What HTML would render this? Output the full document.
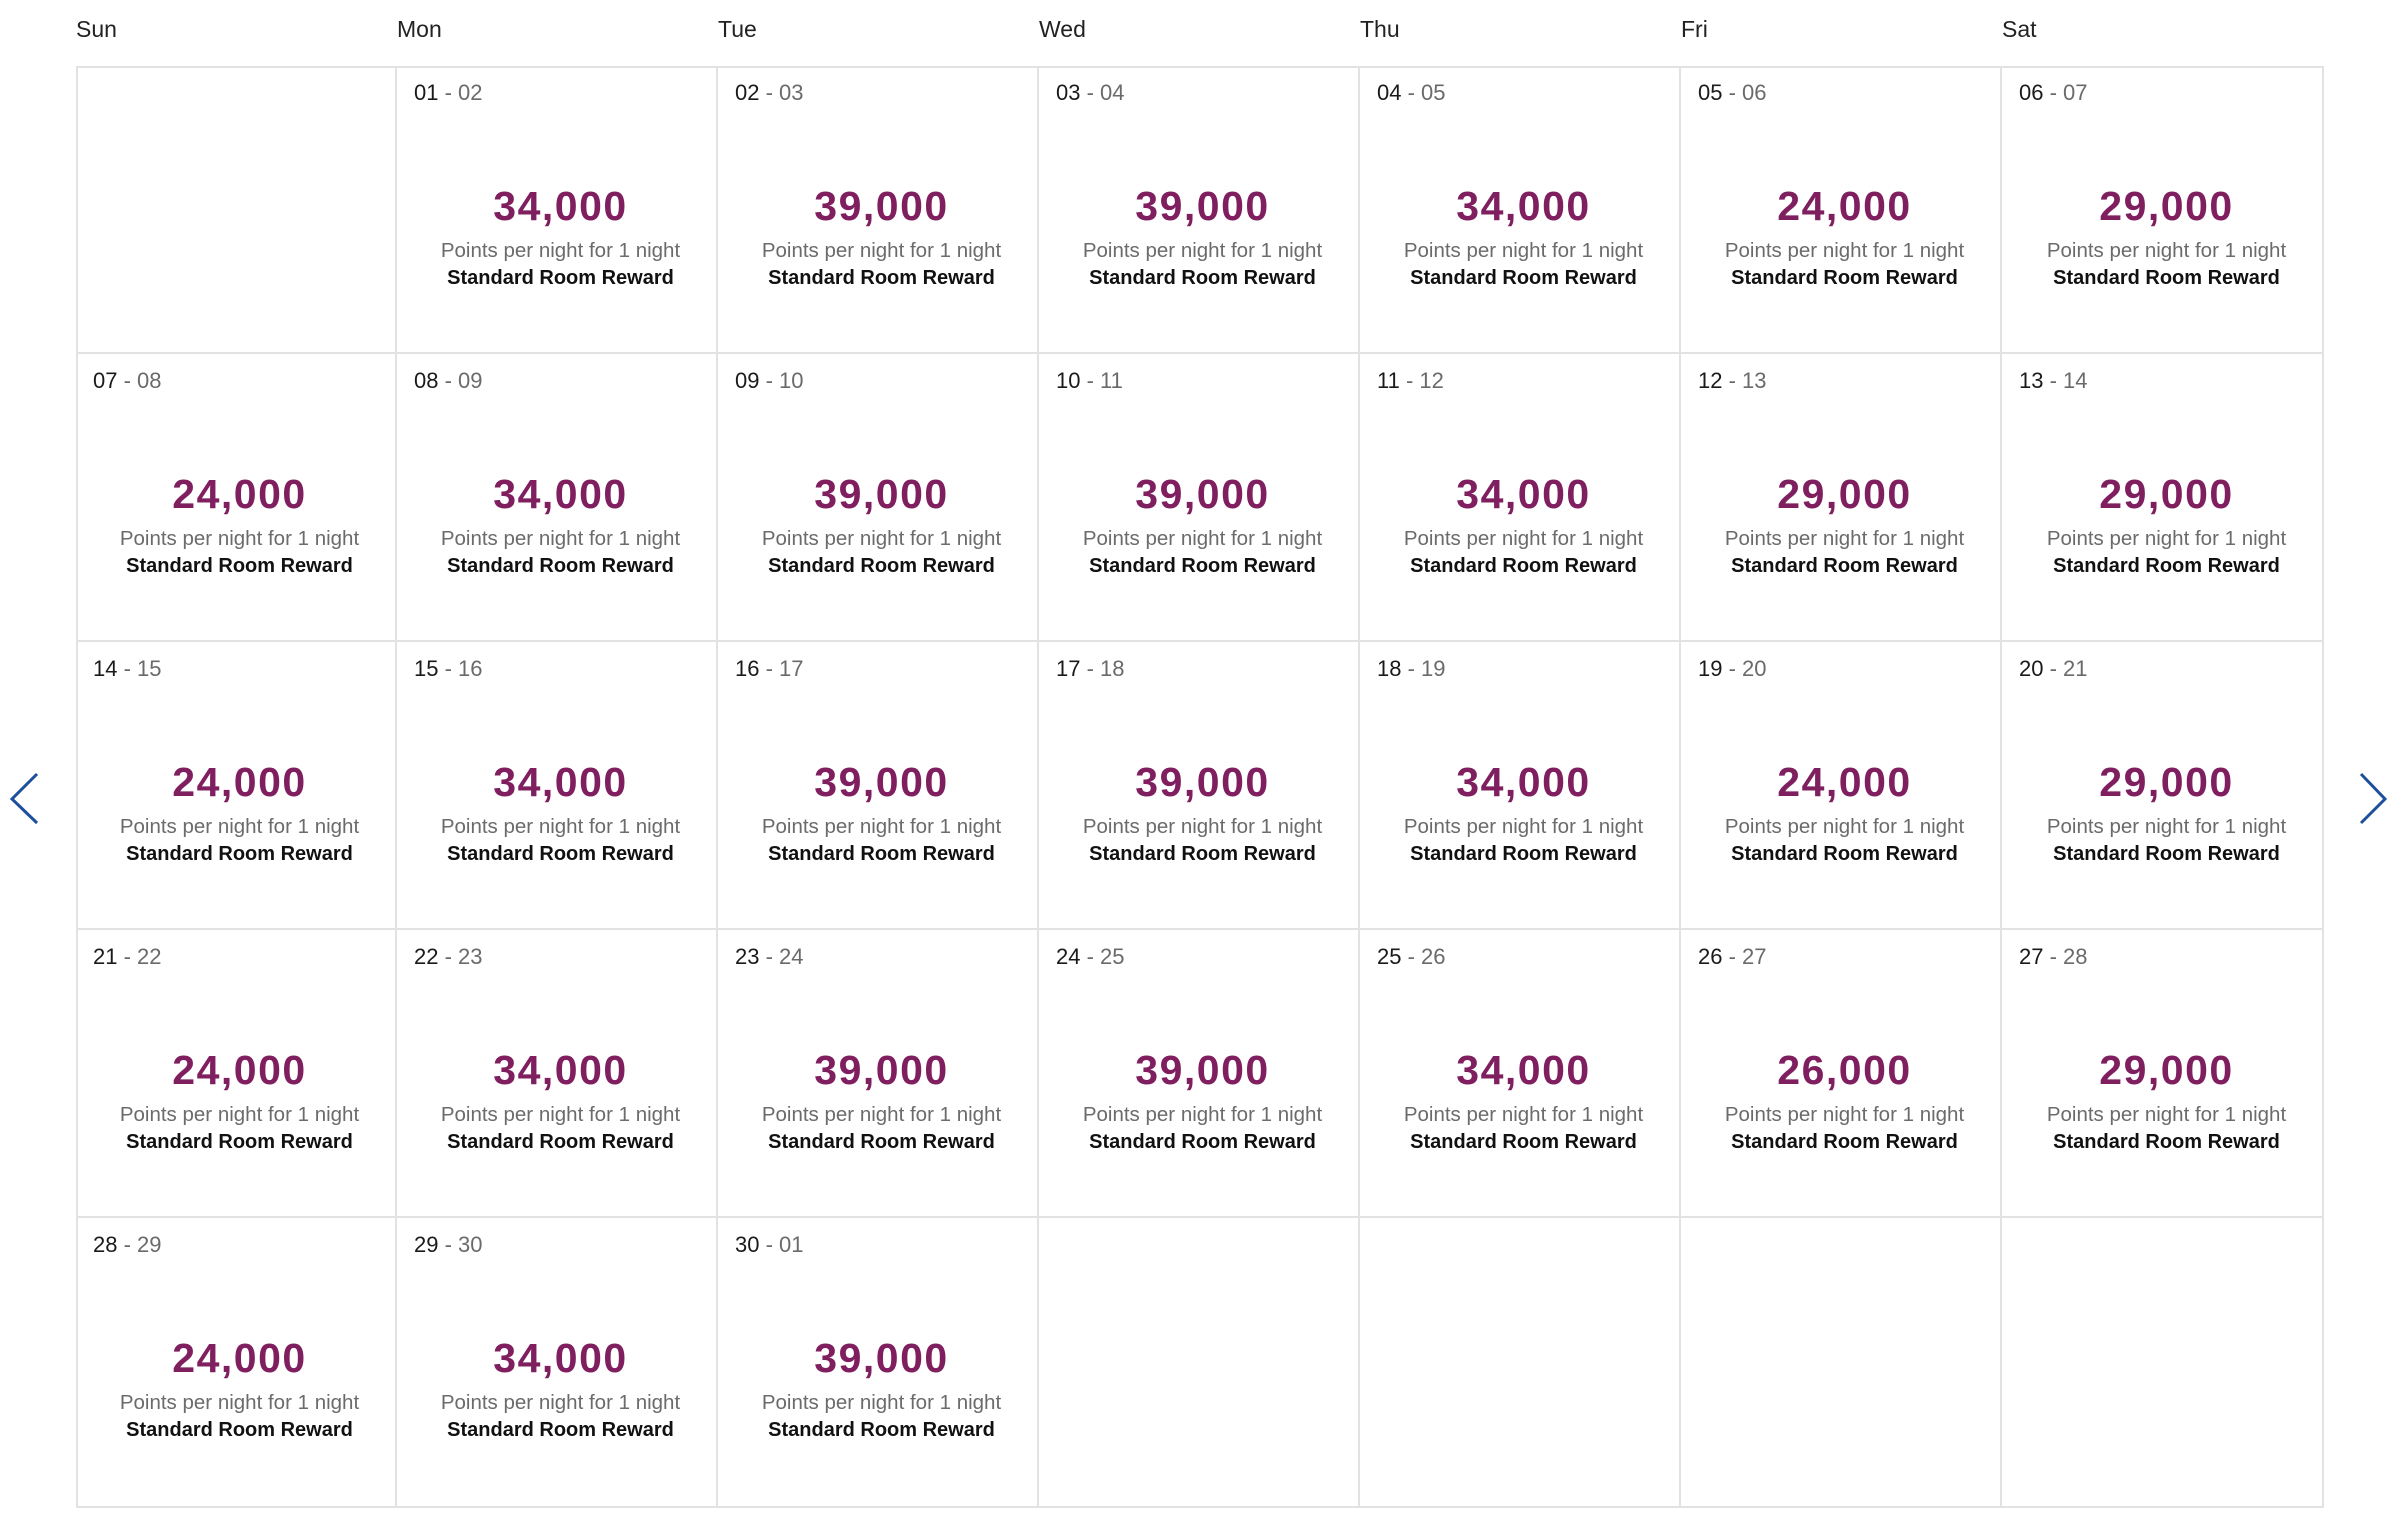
<!DOCTYPE html>
<html><head><meta charset="utf-8"><style>
*{margin:0;padding:0;box-sizing:border-box}
body{width:2392px;height:1530px;background:#fff;position:relative;overflow:hidden;font-family:"Liberation Sans",sans-serif}
.h{position:absolute;top:16px;font-size:23px;color:#222}
.grid{position:absolute;left:76px;top:66px;width:2248px;height:1442px;border:2px solid #e2e2e2}
.c{position:absolute;width:321px;height:288px;border-right:2px solid #e2e2e2;border-bottom:2px solid #e2e2e2}
.d{position:absolute;left:17px;top:14px;font-size:22px;color:#1a1a1a}
.d span{color:#6a6a6a}
.n{position:absolute;left:4px;right:-4px;top:117px;text-align:center;font-size:41px;font-weight:bold;color:#7f1f5f;letter-spacing:1.5px}
.p{position:absolute;left:4px;right:-4px;top:173px;text-align:center;font-size:20.5px;color:#6b6b6b}
.s{position:absolute;left:4px;right:-4px;top:201px;text-align:center;font-size:20px;font-weight:bold;color:#111}
</style></head><body>
<div class="h" style="left:76px">Sun</div>
<div class="h" style="left:397px">Mon</div>
<div class="h" style="left:718px">Tue</div>
<div class="h" style="left:1039px">Wed</div>
<div class="h" style="left:1360px">Thu</div>
<div class="h" style="left:1681px">Fri</div>
<div class="h" style="left:2002px">Sat</div>
<div class="grid" id="g"></div>
<svg style="position:absolute;left:0;top:0" width="2392" height="1530">
<polyline points="37,774 12,799 37,823" fill="none" stroke="#1c4f9c" stroke-width="3"/>
<polyline points="2361,774 2385,799 2361,823" fill="none" stroke="#1c4f9c" stroke-width="3"/>
</svg>
<script>
var vals=[null,34,39,39,34,24,29,24,34,39,39,34,29,29,24,34,39,39,34,24,29,24,34,39,39,34,26,29,24,34,39];
var g=document.getElementById('g'),h='';
function p(x){return (x<10?'0':'')+x}
for(var i=0;i<35;i++){
 var r=Math.floor(i/7),c=i%7,st='left:'+(c*321-2)+'px;top:'+(r*288-2)+'px;';
 if(c==6)st+='border-right:none;'; if(r==4)st+='border-bottom:none;';
 var inner='';
 if(i>=1&&i<=30){var a=i,b=i==30?1:i+1;
  inner='<div class="d">'+p(a)+' <span>- '+p(b)+'</span></div><div class="n">'+vals[i]+',000</div><div class="p">Points per night for 1 night</div><div class="s">Standard Room Reward</div>';}
 h+='<div class="c" style="'+st+'">'+inner+'</div>';
}
g.innerHTML=h;
</script>
</body></html>
